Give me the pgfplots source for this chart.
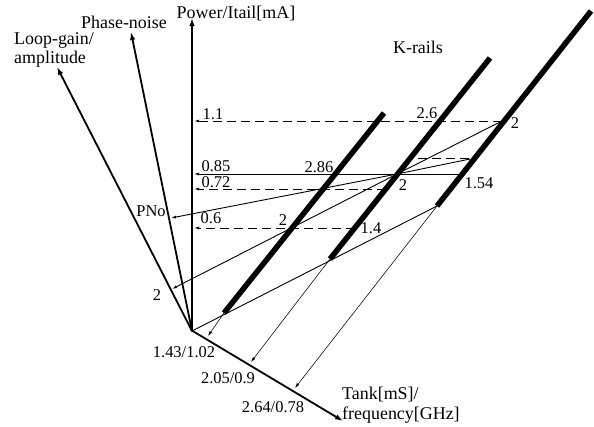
\documentclass[border=0pt]{standalone}
\usepackage{pgfplots}
\pgfplotsset{compat=1.18}
\usetikzlibrary{arrows.meta}
\usepackage{fontspec}
\setmainfont{Liberation Serif}
\begin{document}
\begin{tikzpicture}[
  lab/.style={inner sep=0pt,font=\fontsize{18}{19}\selectfont},
  num/.style={inner sep=0pt,font=\fontsize{16.5}{18}\selectfont},
  big/.style={-{Latex[length=8bp,width=5.5bp]}},
  sm/.style={-{Latex[length=5bp,width=3bp]}},
  dsh/.style={line width=1bp,dash pattern=on 9bp off 5bp},
  thin/.style={line width=0.9bp},
  hair/.style={line width=0.55bp,-{Latex[length=5bp,width=3bp]}},
  rail/.style={line width=5.5bp,line cap=butt}]
\begin{axis}[x=1bp,y=1bp,y dir=reverse,xmin=0,xmax=594,ymin=0,ymax=426,
  hide axis,clip=false]
\addplot[draw=none] coordinates {(0,0) (594,426)};
% axes
\addplot[line width=2.4bp,big] coordinates {(192,331) (192,18)};
\addplot[line width=1.8bp,big] coordinates {(192,331) (131,32)};
\addplot[line width=1.8bp,big] coordinates {(192,331) (57,67)};
\addplot[line width=1.8bp,big] coordinates {(191,330) (343,421)};
% rails
\addplot[rail] coordinates {(224,313) (384,113)};
\addplot[rail] coordinates {(330,259) (490,58)};
\addplot[rail] coordinates {(437,206) (591,11)};
% horizontal levels
\addplot[dsh,sm] coordinates {(502,121) (194,121)};
\addplot[thin,sm] coordinates {(462,174) (194,174)};
\addplot[dsh,sm] coordinates {(386,189) (194,189)};
\addplot[dsh,sm] coordinates {(355,228) (194,228)};
\addplot[dsh] coordinates {(418,158) (470,158)};
% thin lines through the point on the middle rail
\addplot[thin] coordinates {(397,174) (502,121)};
\addplot[thin] coordinates {(397,174) (470,159)};
\addplot[thin,sm] coordinates {(397,174) (171,218)};
\addplot[thin,sm] coordinates {(397,174) (172,289)};
\addplot[thin] coordinates {(192,331) (437,206)};
% projections to the tank axis
\addplot[hair] coordinates {(224,313) (208,336)};
\addplot[hair] coordinates {(330,259) (251,362)};
\addplot[hair] coordinates {(437,206) (295,388)};
% labels
\node[lab] at (axis cs:236,13) {Power/Itail[mA]};
\node[lab] at (axis cs:124,22) {Phase-noise};
\node[lab,align=left,anchor=west] at (axis cs:14,50) {Loop-gain/\\amplitude};
\node[lab] at (axis cs:418,47) {K-rails};
\node[lab,align=left,anchor=west] at (axis cs:342,405) {Tank[mS]/\\[1bp]frequency[GHz]};
\node[num] at (axis cs:213,114) {1.1};
\node[num] at (axis cs:216,166) {0.85};
\node[num] at (axis cs:216,182) {0.72};
\node[num] at (axis cs:211,218) {0.6};
\node[num] at (axis cs:427,113) {2.6};
\node[num] at (axis cs:515,123) {2};
\node[num] at (axis cs:319,167) {2.86};
\node[num] at (axis cs:403,185) {2};
\node[num] at (axis cs:479,183) {1.54};
\node[num] at (axis cs:283,220) {2};
\node[num] at (axis cs:371,228) {1.4};
\node[num] at (axis cs:151,211) {PNo};
\node[num] at (axis cs:157,295) {2};
\node[num] at (axis cs:184,352) {1.43/1.02};
\node[num] at (axis cs:228,378) {2.05/0.9};
\node[num] at (axis cs:273,407) {2.64/0.78};
\end{axis}
\end{tikzpicture}
\end{document}
